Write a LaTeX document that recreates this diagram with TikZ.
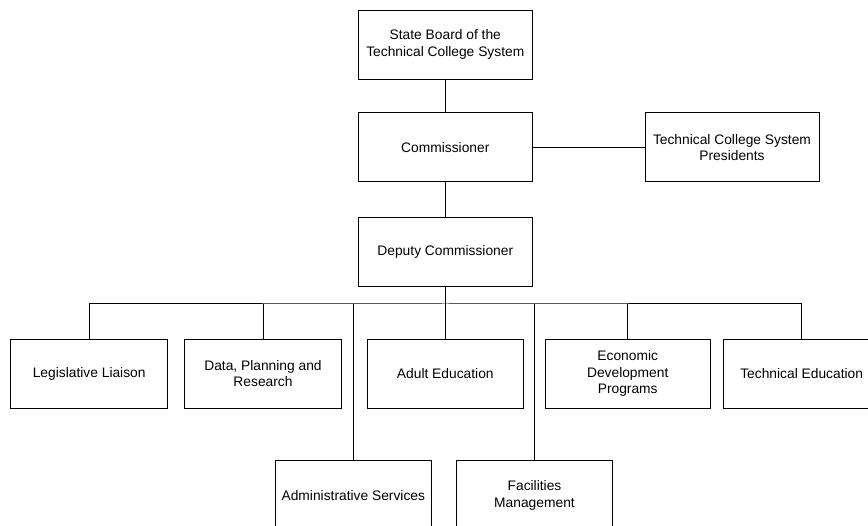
\documentclass[tikz,border=0pt]{standalone}
\usepackage{fontspec}
\setmainfont{Liberation Sans}
\usetikzlibrary{positioning}

\begin{document}
\begin{tikzpicture}[x=1pt,y=-1pt,line width=1pt,
  unit/.style={draw,align=center,inner sep=2pt,
    font=\fontsize{13.8}{16.7}\selectfont},
  topunit/.style={unit,minimum width=174pt,minimum height=69pt},
  office/.style={unit,minimum width=156.5pt,minimum height=69pt}]
\useasboundingbox (0,0) rectangle (868,526);

% upper levels
\node[topunit] (board) at (445.3,44.7) {State Board of the\\Technical College System};
\node[topunit] (comm) at (445.3,147.5) {Commissioner};
\node[topunit] (pres) at (732,147.5) {Technical College System\\Presidents};
\node[topunit] (deputy) at (445.3,252) {Deputy Commissioner};

% offices
\node[office] (legis) at (89.2,373.7) {Legislative Liaison};
\node[office] (data) at (263,373.7) {Data, Planning and\\Research};
\node[office] (adult) at (445.3,373.7) {Adult Education};
\node[office,minimum width=165pt] (econ) at (627.7,373.7) {Economic\\Development\\Programs};
\node[office] (tech) at (801.7,373.7) {Technical Education};
\node[office] (admin) at (353.3,495.4) {Administrative Services};
\node[office] (facil) at (534.5,495.4) {Facilities\\Management};

\coordinate (bus) at (445.3,304);

\draw (board) -- (comm);
\draw (comm) -- (pres);
\draw (comm) -- (deputy);
\draw (deputy) -- (adult);
\draw (legis.north) |- (bus) -| (tech.north);
\foreach \n in {data,admin,econ,facil}
  \draw (\n.north) -- (\n.north |- bus);
\end{tikzpicture}
\end{document}
